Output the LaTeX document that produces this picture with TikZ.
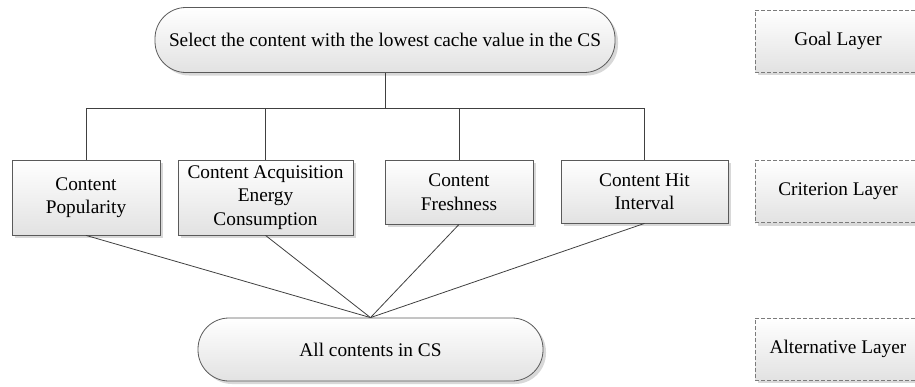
\documentclass[tikz,border=0pt]{standalone}
\usepackage{fontspec}
\setmainfont{Liberation Serif}
\usepackage{xcolor}
\usepackage{tikz}
\usetikzlibrary{shadows, positioning, calc}
\definecolor{ahpline}{RGB}{64, 64, 64}
\definecolor{ahpedge}{RGB}{90, 90, 90}
\definecolor{ahpshade}{RGB}{226, 226, 226}
\definecolor{ahpshadow}{RGB}{200, 200, 200}

\begin{document}
\begin{tikzpicture}[x=1pt, y=-1pt,
    every node/.style={font=\fontsize{19.3}{23.5}\selectfont, align=center, inner sep=0pt},
    crit/.style={rectangle, draw=ahpedge, line width=0.8pt, top color=white, bottom color=ahpshade,
        minimum width=#1, drop shadow={shadow xshift=3pt, shadow yshift=-3pt, fill=ahpshadow, opacity=0.7}},
    pill/.style={rectangle, rounded corners=31pt, draw=ahpedge, line width=0.8pt, top color=white,
        bottom color=ahpshade, minimum width=#1, minimum height=63pt,
        drop shadow={shadow xshift=3pt, shadow yshift=-3pt, fill=ahpshadow, opacity=0.7}},
    layer/.style={rectangle, draw=ahpedge!80, dash pattern=on 4pt off 2pt, line width=0.7pt, top color=white,
        bottom color=ahpshade, minimum width=166pt, minimum height=62pt,
        drop shadow={shadow xshift=3pt, shadow yshift=-3pt, fill=ahpshadow, opacity=0.7}},
    link/.style={draw=ahpline, line width=0.8pt}
]
\useasboundingbox (0,0) rectangle (915,386);
\clip (0,0) rectangle (915,386);

% Goal
\node[pill=460pt, minimum height=65pt] (goal) at (385,40) {Select the content with the lowest cache value in the CS};

% Criteria
\node[crit=148pt, minimum height=75pt] (c1) at (86,197.5) {Content\\Popularity};
\node[crit=175pt, minimum height=75pt] (c2) at (265.5,197.5) {Content Acquisition\\Energy\\Consumption};
\node[crit=148pt, minimum height=64pt] (c3) at (459,192) {Content\\Freshness};
\node[crit=167pt, minimum height=63pt] (c4) at (644.5,191.5) {Content Hit\\Interval};

% Alternatives
\node[pill=345pt] (alt) at (370.5,349.5) {All contents in CS};

% Layer labels
\node[layer] (lgoal) at (838,41) {Goal Layer};
\node[layer] (lcrit) at (838,191.5) {Criterion Layer};
\node[layer] (lalt) at (838,349) {Alternative Layer};

% Links
\coordinate (split) at (385,108);
\draw[link] (goal.south) -- (split);
\foreach \c in {c1,c2,c3,c4}
    \draw[link] (split) -| (\c.north);
\foreach \c in {c1,c2,c3,c4}
    \draw[link] (\c.south) -- (alt.north);

\end{tikzpicture}
\end{document}
